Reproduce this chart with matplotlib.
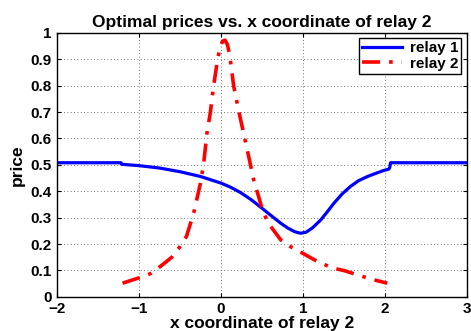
import matplotlib
matplotlib.use("Agg")
import matplotlib.pyplot as plt

plt.rcParams["font.family"] = ["Liberation Sans", "DejaVu Sans"]
plt.rcParams["font.weight"] = "bold"

# relay 1 (blue, solid)
x_relay1 = [-2.0, -1.22, -1.21, -1.0, -0.75, -0.5, -0.25, 0.0, 0.12, 0.24, 0.37,
            0.5, 0.62, 0.73, 0.82, 0.9, 0.97, 1.04, 1.12, 1.22, 1.3, 1.38, 1.48,
            1.58, 1.68, 1.79, 1.9, 1.98, 2.05, 2.06, 2.07, 3.0]
p_relay1 = [0.508, 0.508, 0.502, 0.497, 0.488, 0.474, 0.456, 0.431, 0.415, 0.395,
            0.368, 0.336, 0.306, 0.279, 0.260, 0.247, 0.241, 0.245, 0.262, 0.292,
            0.323, 0.355, 0.390, 0.418, 0.440, 0.456, 0.469, 0.478, 0.484, 0.49,
            0.508, 0.508]

# relay 2 (red, dash-dot)
x_relay2 = [-1.2, -1.0, -0.86, -0.74, -0.6, -0.5, -0.42, -0.33, -0.25, -0.21,
            -0.17, -0.13, -0.09, -0.04, -0.01, 0.02, 0.05, 0.08, 0.11, 0.155,
            0.22, 0.277, 0.34, 0.40, 0.52, 0.6, 0.73, 0.85, 1.0, 1.2, 1.38,
            1.5, 1.7, 1.9, 2.03]
p_relay2 = [0.052, 0.072, 0.088, 0.115, 0.15, 0.19, 0.229, 0.32, 0.43, 0.506,
            0.62, 0.696, 0.797, 0.9, 0.945, 0.968, 0.972, 0.955, 0.91, 0.80,
            0.70, 0.62, 0.53, 0.443, 0.317, 0.27, 0.216, 0.19, 0.165, 0.13,
            0.108, 0.1, 0.08, 0.062, 0.052]

fig = plt.figure(figsize=(4.71, 3.31), dpi=100)
ax = fig.add_axes([0.121, 0.103, 0.870, 0.798])

ax.plot(x_relay1, p_relay1, "-", color="#0000ff", lw=2.3, label="relay 1")
ax.plot(x_relay2, p_relay2, "-.", color="#ff0000", lw=2.6, label="relay 2",
        dashes=(5, 2.5, 1, 2.5))

ax.set_xlim(-2, 3)
ax.set_ylim(0, 1)
ax.set_xticks([-2, -1, 0, 1, 2, 3])
ax.set_yticks([0, 0.1, 0.2, 0.3, 0.4, 0.5, 0.6, 0.7, 0.8, 0.9, 1])
ax.set_yticklabels(["0", "0.1", "0.2", "0.3", "0.4", "0.5", "0.6", "0.7", "0.8", "0.9", "1"])
ax.tick_params(direction="in", top=True, right=True, labelsize=11, length=3)
ax.tick_params(axis="x", pad=4)
ax.tick_params(axis="y", pad=4)
ax.grid(True, linestyle=(0, (1, 3)), color="#444444", linewidth=0.6)
for s in ax.spines.values():
    s.set_linewidth(1.0)

ax.set_title("Optimal prices vs. x coordinate of relay 2", fontsize=12.5,
             fontweight="bold", pad=4)
ax.set_xlabel("x coordinate of relay 2", fontsize=12.5, fontweight="bold", labelpad=0)
ax.set_ylabel("price", fontsize=12.5, fontweight="bold", labelpad=4)

leg = ax.legend(loc="upper right", fontsize=11, fancybox=False, framealpha=1,
                edgecolor="black", borderaxespad=0.35, handlelength=2.6,
                borderpad=0.2, labelspacing=0.1, handletextpad=0.5)
leg.get_frame().set_linewidth(1.0)

fig.savefig("out.png", dpi=100)
